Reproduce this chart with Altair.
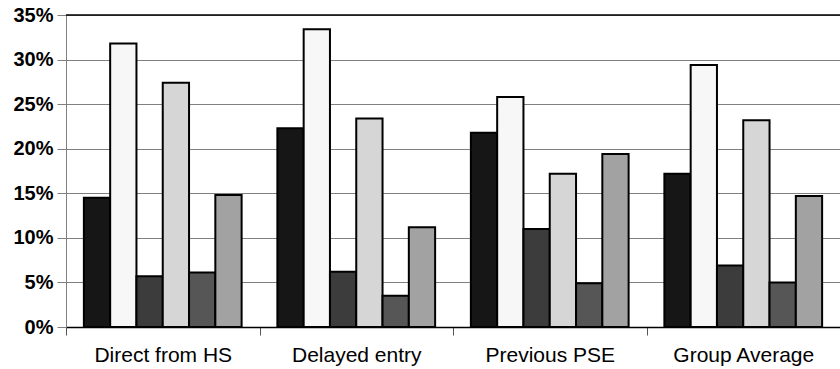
import altair as alt
import pandas as pd

# Entry groups along the x axis
groups = ["Direct from HS", "Delayed entry", "Previous PSE", "Group Average"]

# Six series per group, shares as fractions
series = ["s1", "s2", "s3", "s4", "s5", "s6"]
values = {
    "s1": [0.145, 0.223, 0.218, 0.172],
    "s2": [0.318, 0.334, 0.258, 0.294],
    "s3": [0.057, 0.062, 0.110, 0.069],
    "s4": [0.274, 0.234, 0.172, 0.232],
    "s5": [0.061, 0.035, 0.049, 0.050],
    "s6": [0.148, 0.112, 0.194, 0.147],
}
fills = ["#161616", "#f7f7f7", "#3c3c3c", "#d6d6d6", "#565656", "#a2a2a2"]

y_ticks = [0.0, 0.05, 0.10, 0.15, 0.20, 0.25, 0.30, 0.35]

rows = []
for s in series:
    for g, v in zip(groups, values[s]):
        rows.append({"group": g, "series": s, "value": v})
df = pd.DataFrame(rows)

FONT = "Liberation Sans"

bars = alt.Chart(df).mark_bar(stroke="black", strokeWidth=2).encode(
    x=alt.X(
        "group:N",
        sort=groups,
        scale=alt.Scale(paddingInner=0, paddingOuter=0),
        axis=alt.Axis(
            title=None,
            labelAngle=0,
            labelFont=FONT,
            labelFontSize=21,
            labelColor="black",
            labelPadding=9,
            tickBand="extent",
            tickSize=8,
            tickColor="#555555",
            domainColor="black",
            domainWidth=1.5,
            grid=False,
        ),
    ),
    xOffset=alt.XOffset(
        "series:N",
        sort=series,
        scale=alt.Scale(paddingInner=0, paddingOuter=0.68),
    ),
    y=alt.Y(
        "value:Q",
        scale=alt.Scale(domain=[0, 0.35], nice=False),
        axis=alt.Axis(
            title=None,
            values=y_ticks,
            format=".0%",
            labelFont=FONT,
            labelFontSize=20,
            labelFontWeight="bold",
            labelColor="black",
            labelPadding=4,
            tickSize=9,
            tickColor="#808080",
            domainColor="#808080",
            gridColor="#808080",
            gridWidth=1,
        ),
    ),
    fill=alt.Fill("series:N", sort=series, scale=alt.Scale(domain=series, range=fills), legend=None),
)

top_line = alt.Chart(pd.DataFrame({"v": [y_ticks[-1]]})).mark_rule(color="black", strokeWidth=1.5).encode(
    y=alt.Y("v:Q")
)

chart = alt.layer(bars, top_line).properties(
    width=774,
    height=312,
    autosize=alt.AutoSizeParams(type="none"),
    padding={"left": 66, "top": 15, "right": 0, "bottom": 42},
    background="white",
).configure_view(stroke=None)

chart.save("out.html", embed_options={"renderer": "svg", "actions": False})
